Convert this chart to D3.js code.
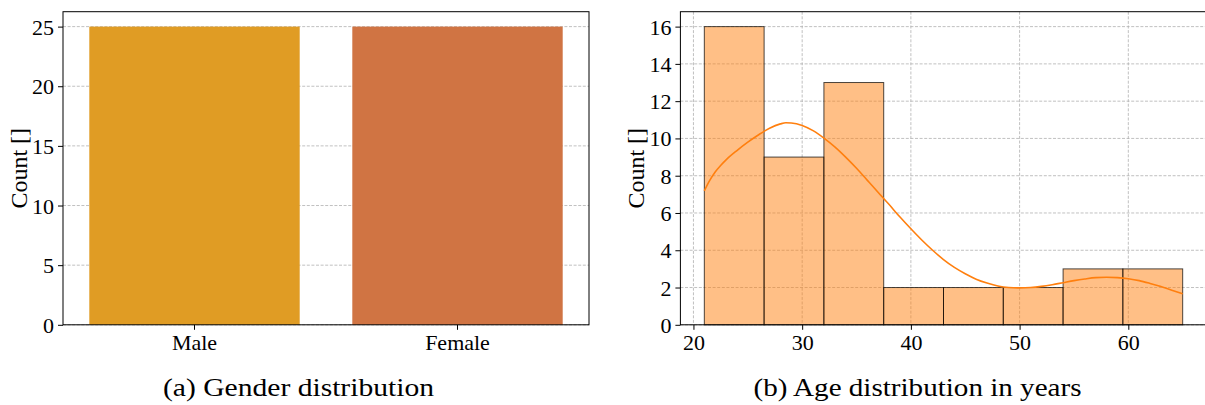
<!DOCTYPE html>
<html>
<head>
<meta charset="utf-8">
<script src="https://cdn.jsdelivr.net/npm/d3@7"></script>
<style>
  html, body { margin: 0; padding: 0; background: #fff; }
  svg { display: block; }
  text { font-family: "Liberation Serif", "Times New Roman", serif; fill: #000; }
</style>
</head>
<body>
<svg id="chart" width="1205" height="405"></svg>
<script>
// ---------- data ----------
const genderCategories = ["Male", "Female"];
const genderCounts = [25, 25];
const genderColors = ["#E09C24", "#D07443"];
const genderYTicks = [0, 5, 10, 15, 20, 25];

const ageBinEdges = [21, 26.5, 32, 37.5, 43, 48.5, 54, 59.5, 65];
const ageCounts = [16, 9, 13, 2, 2, 2, 3, 3];
const ageXTicks = [20, 30, 40, 50, 60];
const ageYTicks = [0, 2, 4, 6, 8, 10, 12, 14, 16];
// KDE curve (age, scaled count)
const kdeAge =   [21, 21.5, 22, 22.5, 23, 24, 25, 26, 27, 28, 28.5, 29, 30, 31, 32, 33, 34, 35, 36, 37, 38, 39, 40, 41, 42, 43, 44, 45, 46, 47, 48, 49, 50, 51, 52, 53, 54, 55, 56, 57, 58, 59, 60, 61, 62, 63, 64, 65];
const kdeCount = [7.19, 7.75, 8.2, 8.55, 8.85, 9.35, 9.8, 10.2, 10.55, 10.78, 10.84, 10.83, 10.7, 10.42, 10.02, 9.55, 9.0, 8.4, 7.75, 7.1, 6.45, 5.78, 5.15, 4.55, 4.0, 3.5, 3.08, 2.74, 2.45, 2.24, 2.08, 2.0, 1.98, 2.0, 2.06, 2.15, 2.26, 2.37, 2.46, 2.53, 2.55, 2.53, 2.47, 2.37, 2.22, 2.05, 1.86, 1.66];

const captions = ["(a) Gender distribution", "(b) Age distribution in years"];
const yLabel = "Count []";

// ---------- layout ----------
const svg = d3.select("#chart");
const yTop = 11.7, yBottom = 324.8;
const tickFont = 22;
const labelFont = 24;
const gridColor = "#b0b0b0";
const gridDash = "3,1.6";

function drawYAxis(g, y, ticks, x0) {
  const ax = g.append("g").attr("transform", `translate(${x0},0)`)
    .call(d3.axisLeft(y).tickValues(ticks).tickSize(5).tickPadding(4).tickFormat(d3.format("d")));
  ax.select(".domain").remove();
  ax.selectAll(".tick line").attr("stroke", "#000").attr("stroke-width", 1);
  ax.selectAll(".tick text").style("font-size", tickFont + "px").attr("dy", "0.34em");
}

function drawXAxis(g, axis) {
  const xa = g.append("g").attr("transform", `translate(0,${yBottom})`).call(axis);
  xa.select(".domain").remove();
  xa.selectAll(".tick line").attr("stroke", "#000");
  xa.selectAll(".tick text").style("font-size", tickFont + "px").attr("dy", "0.7em");
}

// ---------- panel (a) ----------
{
  const x0 = 63, x1 = 589;
  const g = svg.append("g");
  const x = d3.scaleBand().domain(genderCategories).range([x0, x1]).paddingInner(0.2).paddingOuter(0.1);
  const y = d3.scaleLinear().domain([0, 26.25]).range([yBottom, yTop]);

  g.append("g").selectAll("line").data(genderYTicks).join("line")
    .attr("x1", x0).attr("x2", x1).attr("y1", d => y(d)).attr("y2", d => y(d))
    .attr("stroke", gridColor).attr("stroke-width", 0.8).attr("stroke-dasharray", gridDash);

  g.append("g").selectAll("rect").data(genderCategories).join("rect")
    .attr("x", d => x(d)).attr("width", x.bandwidth())
    .attr("y", (d, i) => y(genderCounts[i])).attr("height", (d, i) => y(0) - y(genderCounts[i]))
    .attr("fill", (d, i) => genderColors[i]);

  drawYAxis(g, y, genderYTicks, x0);
  drawXAxis(g, d3.axisBottom(x).tickSize(5).tickPadding(5));

  g.append("rect").attr("x", x0).attr("y", yTop).attr("width", x1 - x0).attr("height", yBottom - yTop)
    .attr("fill", "none").attr("stroke", "#000").attr("stroke-width", 1);

  g.append("text").attr("transform", `translate(27,${(yTop + yBottom) / 2}) rotate(-90)`)
    .attr("text-anchor", "middle").style("font-size", labelFont + "px").text(yLabel);

  g.append("text").attr("x", 298.5).attr("y", 396).attr("text-anchor", "middle")
    .style("font-size", "26px").attr("textLength", 271).attr("lengthAdjust", "spacingAndGlyphs")
    .text(captions[0]);
}

// ---------- panel (b) ----------
{
  const x0 = 680.4, x1 = 1206.6;
  const g = svg.append("g");
  const x = d3.scaleLinear().domain([18.8, 67.2]).range([x0, x1]);
  const y = d3.scaleLinear().domain([0, 16.8]).range([yBottom, yTop]);

  g.append("g").selectAll("line").data(ageYTicks).join("line")
    .attr("x1", x0).attr("x2", x1).attr("y1", d => y(d)).attr("y2", d => y(d))
    .attr("stroke", gridColor).attr("stroke-width", 0.8).attr("stroke-dasharray", gridDash);
  g.append("g").selectAll("line").data(ageXTicks).join("line")
    .attr("y1", yTop).attr("y2", yBottom).attr("x1", d => x(d)).attr("x2", d => x(d))
    .attr("stroke", gridColor).attr("stroke-width", 0.8).attr("stroke-dasharray", gridDash);

  g.append("g").selectAll("rect").data(ageCounts).join("rect")
    .attr("x", (d, i) => x(ageBinEdges[i]))
    .attr("width", (d, i) => x(ageBinEdges[i + 1]) - x(ageBinEdges[i]))
    .attr("y", d => y(d)).attr("height", d => y(0) - y(d))
    .attr("fill", "#ff7f0e").attr("fill-opacity", 0.5)
    .attr("stroke", "#000").attr("stroke-opacity", 0.7).attr("stroke-width", 1);

  const line = d3.line().x(d => x(d[0])).y(d => y(d[1])).curve(d3.curveMonotoneX);
  g.append("path").datum(kdeAge.map((a, i) => [a, kdeCount[i]]))
    .attr("d", line).attr("fill", "none").attr("stroke", "#ff7f0e").attr("stroke-width", 1.6);

  drawYAxis(g, y, ageYTicks, x0);
  drawXAxis(g, d3.axisBottom(x).tickValues(ageXTicks).tickSize(5).tickPadding(5).tickFormat(d3.format("d")));

  g.append("rect").attr("x", x0).attr("y", yTop).attr("width", x1 - x0).attr("height", yBottom - yTop)
    .attr("fill", "none").attr("stroke", "#000").attr("stroke-width", 1);

  g.append("text").attr("transform", `translate(644,${(yTop + yBottom) / 2}) rotate(-90)`)
    .attr("text-anchor", "middle").style("font-size", labelFont + "px").text(yLabel);

  g.append("text").attr("x", 917.5).attr("y", 396).attr("text-anchor", "middle")
    .style("font-size", "26px").attr("textLength", 328).attr("lengthAdjust", "spacingAndGlyphs")
    .text(captions[1]);
}
</script>
</body>
</html>
